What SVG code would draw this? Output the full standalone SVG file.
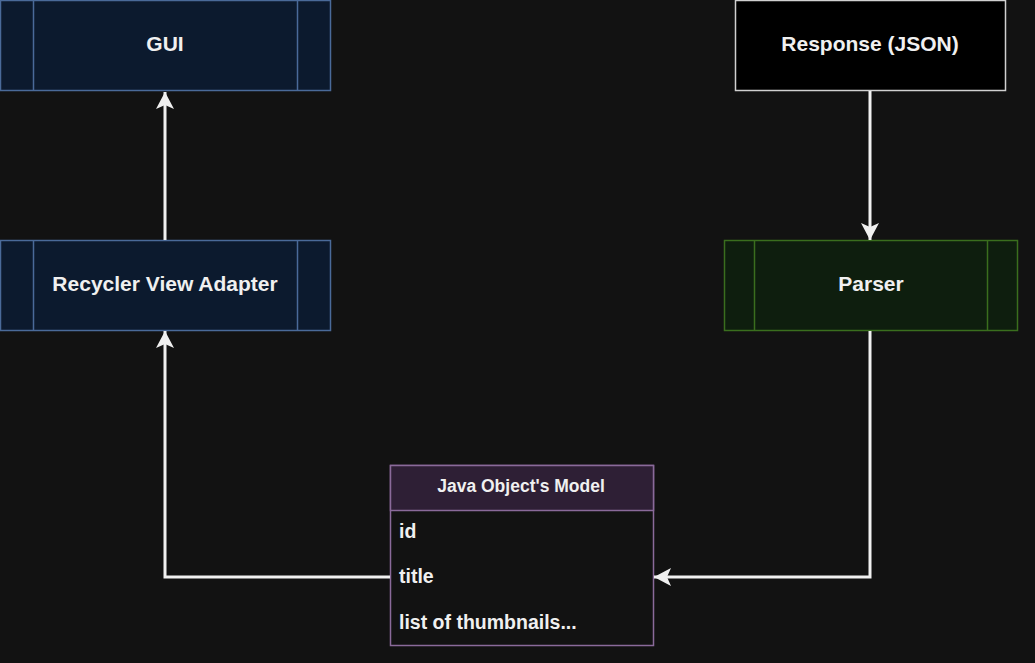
<svg xmlns="http://www.w3.org/2000/svg" width="1035" height="663" viewBox="0 0 1035 663">
<defs>
<marker id="arr" viewBox="0 0 17 18" refX="17" refY="9" markerWidth="17" markerHeight="18" markerUnits="userSpaceOnUse" orient="auto">
<path d="M0,0 L17,9 L0,18 L4,9 Z" fill="#f0f0f0"/>
</marker>
<style>
.t{font-family:"Liberation Sans",Arial,sans-serif;font-weight:bold;fill:#f0f0f0}
.blue{fill:#0c1a2e;stroke:#4a6a99;stroke-width:1.5}
.green{fill:#0e1e0e;stroke:#3a6e1e;stroke-width:1.5}
.edge{fill:none;stroke:#f0f0f0;stroke-width:3}
</style>
</defs>
<rect width="1035" height="663" fill="#121212"/>
<g id="gui">
<rect class="blue" x="0.5" y="0.5" width="330" height="90"/>
<line class="blue" x1="33.5" y1="0.5" x2="33.5" y2="90.5"/>
<line class="blue" x1="297.5" y1="0.5" x2="297.5" y2="90.5"/>
<text class="t" x="165" y="51" font-size="21" text-anchor="middle">GUI</text>
</g>
<g id="adapter">
<rect class="blue" x="0.5" y="240.5" width="330" height="90"/>
<line class="blue" x1="33.5" y1="240.5" x2="33.5" y2="330.5"/>
<line class="blue" x1="297.5" y1="240.5" x2="297.5" y2="330.5"/>
<text class="t" x="165" y="291" font-size="21" text-anchor="middle">Recycler View Adapter</text>
</g>
<g id="response">
<rect x="735.5" y="0.5" width="270" height="90" fill="#000000" stroke="#d0d0d0" stroke-width="1.5"/>
<text class="t" x="870" y="51" font-size="21" text-anchor="middle">Response (JSON)</text>
</g>
<g id="parser">
<rect class="green" x="724.5" y="240.5" width="293" height="90"/>
<line class="green" x1="754.5" y1="240.5" x2="754.5" y2="330.5"/>
<line class="green" x1="987.5" y1="240.5" x2="987.5" y2="330.5"/>
<text class="t" x="871" y="291" font-size="21" text-anchor="middle">Parser</text>
</g>
<g id="model">
<rect x="390.5" y="465.5" width="263" height="180" fill="#121212" stroke="#8a6a9a" stroke-width="1.5"/>
<rect x="390.5" y="465.5" width="263" height="45" fill="#2e1f35" stroke="#8a6a9a" stroke-width="1.5"/>
<text class="t" x="521" y="492" font-size="17.5" text-anchor="middle">Java Object's Model</text>
<text class="t" x="399" y="538" font-size="19.5">id</text>
<text class="t" x="399" y="583" font-size="19.5">title</text>
<text class="t" x="399" y="629" font-size="19.5">list of thumbnails...</text>
</g>
<g id="connectors">
<path class="edge" d="M165,240 L165,92" marker-end="url(#arr)"/>
<path class="edge" d="M870,91 L870,240" marker-end="url(#arr)"/>
<path class="edge" d="M870,331 L870,577 L654,577" marker-end="url(#arr)"/>
<path class="edge" d="M390,577 L165,577 L165,331" marker-end="url(#arr)"/>
</g>
</svg>
